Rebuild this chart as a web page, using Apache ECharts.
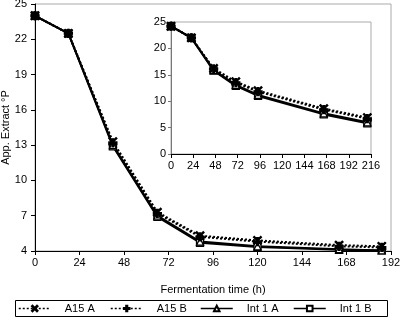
<!DOCTYPE html>
<html>
<head>
<meta charset="utf-8">
<script src="https://cdn.jsdelivr.net/npm/echarts@6/dist/echarts.min.js"></script>
<style>
html, body { margin: 0; padding: 0; background: #fff; }
#chart { width: 400px; height: 322px; }
</style>
</head>
<body>
<div id="chart"></div>
<script>
// main chart (hours vs apparent extract)
var mainHours = [0, 18, 42, 66, 89, 120, 164, 187];
var mainA15A  = [24, 22.5, 13.3, 7.3, 5.3, 4.9, 4.5, 4.4];
var mainA15B  = [24, 22.5, 13.2, 7.2, 5.2, 4.8, 4.4, 4.3];
var mainInt1A = [24, 22.5, 13.0, 7.0, 4.8, 4.4, 4.15, 4.05];
var mainInt1B = [24, 22.5, 12.9, 6.9, 4.7, 4.35, 4.1, 4.05];

// inset chart
var insetHours = [0, 22, 46, 70, 94, 165, 212];
var insetA15A  = [24.2, 22.0, 16.2, 13.7, 12.0, 8.6, 6.9];
var insetA15B  = [24.2, 22.0, 16.1, 13.5, 11.8, 8.4, 6.7];
var insetInt1A = [24.2, 22.0, 15.9, 13.1, 11.2, 7.7, 6.0];
var insetInt1B = [24.2, 22.0, 15.8, 12.9, 11.0, 7.5, 5.8];

var seriesNames = ['A15 A', 'A15 B', 'Int 1 A', 'Int 1 B'];
var legendLeft = [18, 110, 200, 293];

var crossPath = 'path://M0,1L1,0L5,4L9,0L10,1L6,5L10,9L9,10L5,6L1,10L0,9L4,5Z';
var plusPath  = 'path://M4,0H6V4H10V6H6V10H4V6H0V4H4Z';

var styles = {
    'A15 A':   { symbol: crossPath, size: 8, dash: [2, 2], fill: '#000' },
    'A15 B':   { symbol: plusPath,  size: 8, dash: [2, 2], fill: '#000' },
    'Int 1 A': { symbol: 'triangle', size: 7, dash: 'solid', fill: '#fff' },
    'Int 1 B': { symbol: 'rect',     size: 7, dash: 'solid', fill: '#fff' }
};

function pairs(xs, ys) {
    return xs.map(function (x, i) { return [x, ys[i]]; });
}

function makeSeries(name, idx, xs, ys) {
    var s = styles[name];
    return {
        name: name,
        type: 'line',
        xAxisIndex: idx,
        yAxisIndex: idx,
        data: pairs(xs, ys),
        symbol: s.symbol,
        symbolSize: s.size,
        showAllSymbol: true,
        lineStyle: { color: '#000', width: 2, type: s.dash },
        itemStyle: { color: s.fill, borderColor: '#000', borderWidth: 1.3 },
        emphasis: { disabled: true },
        animation: false
    };
}

var labelFont = { fontFamily: 'Liberation Sans', fontSize: 11, color: '#000' };

var legends = seriesNames.map(function (name, i) {
    return {
        data: [name],
        left: legendLeft[i],
        top: 303,
        padding: 0,
        itemWidth: 32,
        itemHeight: 7,
        selectedMode: false,
        lineStyle: { width: 1.5 },
        textStyle: { fontFamily: 'Liberation Sans', fontSize: 11, color: '#000', padding: [0, 0, 0, 9] }
    };
});

var chart = echarts.init(document.getElementById('chart'));
chart.setOption({
    animation: false,
    textStyle: { fontFamily: 'Liberation Sans' },
    grid: [
        { left: 35, top: 4, right: 9, bottom: 71, outerBoundsMode: 'none',
          show: true, borderColor: '#aaa', borderWidth: 1 },
        { left: 171, top: 22, right: 29, bottom: 168, outerBoundsMode: 'none',
          show: true, borderColor: '#aaa', borderWidth: 1, backgroundColor: '#fff' }
    ],
    xAxis: [
        {
            type: 'value', gridIndex: 0, min: 0, max: 192, interval: 24,
            name: 'Fermentation time (h)', nameLocation: 'middle', nameGap: 33,
            nameTextStyle: labelFont,
            axisLine: { lineStyle: { color: '#000', width: 1 } },
            axisTick: { show: true, length: 4, lineStyle: { color: '#000' } },
            axisLabel: Object.assign({ margin: 6 }, labelFont),
            splitLine: { show: false }
        },
        {
            type: 'value', gridIndex: 1, min: 0, max: 216, interval: 24,
            axisLine: { lineStyle: { color: '#000', width: 1 } },
            axisTick: { show: true, length: 4, lineStyle: { color: '#000' } },
            axisLabel: Object.assign({ margin: 6 }, labelFont),
            splitLine: { show: false }
        }
    ],
    yAxis: [
        {
            type: 'value', gridIndex: 0, min: 4, max: 25, interval: 3,
            name: 'App. Extract °P', nameLocation: 'middle', nameGap: 24,
            nameMoveOverlap: false,
            nameTextStyle: labelFont,
            axisLine: { show: true, lineStyle: { color: '#000', width: 1 } },
            axisTick: { show: true, length: 4, lineStyle: { color: '#000' } },
            axisLabel: Object.assign({ margin: 8 }, labelFont),
            splitLine: { show: false }
        },
        {
            type: 'value', gridIndex: 1, min: 0, max: 25, interval: 5,
            axisLine: { show: true, lineStyle: { color: '#777', width: 1 } },
            axisTick: { show: true, length: 3, lineStyle: { color: '#777' } },
            axisLabel: Object.assign({ margin: 5 }, labelFont),
            splitLine: { show: false }
        }
    ],
    legend: legends,
    graphic: [
        { type: 'rect', shape: { x: 15.5, y: 300.5, width: 372, height: 16 },
          style: { fill: 'none', stroke: '#000', lineWidth: 1 }, silent: true }
    ],
    series: [
        makeSeries('Int 1 B', 0, mainHours, mainInt1B),
        makeSeries('Int 1 A', 0, mainHours, mainInt1A),
        makeSeries('A15 B', 0, mainHours, mainA15B),
        makeSeries('A15 A', 0, mainHours, mainA15A),
        makeSeries('Int 1 B', 1, insetHours, insetInt1B),
        makeSeries('Int 1 A', 1, insetHours, insetInt1A),
        makeSeries('A15 B', 1, insetHours, insetA15B),
        makeSeries('A15 A', 1, insetHours, insetA15A)
    ]
});
</script>
</body>
</html>
